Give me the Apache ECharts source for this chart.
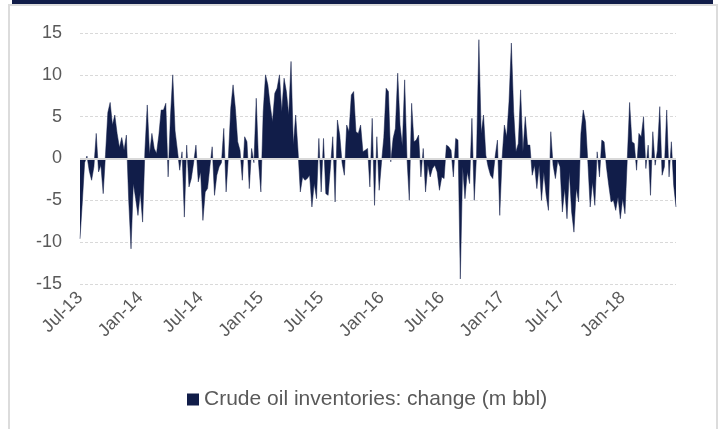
<!DOCTYPE html>
<html>
<head>
<meta charset="utf-8">
<script src="https://cdn.jsdelivr.net/npm/echarts@6/dist/echarts.min.js"></script>
<style>
html,body{margin:0;padding:0;background:#fff;}
#chart{width:725px;height:429px;}
</style>
</head>
<body>
<div id="chart"></div>
<script>
// Weekly change in crude oil inventories (m bbl), first week of Jul-2013 onward
var startDate = '2013-07-05';
var values = [
-9.6,-5.2,-0.5,0.3,-1.5,-2.6,-1,3,-1.6,-0.8,
-4.2,0.5,5.5,6.7,4,5.2,3,1.3,2.5,1,
2.8,-5,-10.8,-3,-4.8,-6.8,-4,-7.6,1,6.4,
0.5,3,1.2,0.6,2.8,5.8,5.8,6.6,-2.2,5,
10,3.3,1,-1.4,0.8,-7,1.6,-3.4,-2.4,-0.5,
1.6,-2.8,-1.6,-7.4,-4,-3.6,-1,1.4,-4.4,-2,
-1,-0.5,3.6,-4,0.2,6,8.8,6,2,1,
-2.6,2.6,2,-3.6,1.2,-0.5,7.2,-0.5,-4,5.6,
10,8.8,6.4,4.4,7.8,8.4,10,5.6,9.6,8,
5.2,11.6,1.6,5.2,1,-4,-2.2,-2.6,-2.4,-2,
-5.8,-3,-4.8,2.4,-4,2.4,-4.2,-4.4,-1,2.6,
-5.2,4.6,2.8,-0.5,-2,4,3.2,7.6,8,3.2,
3,4,0.8,1,1.2,-3.4,4.8,-5.6,2.6,-3.8,
-0.5,2.5,8.4,8,-0.4,2.4,3.6,10.2,4,1.5,
9.4,0,-5,6.6,2,2.2,2.8,-2.2,1.2,-4,
-0.8,-2.2,-1.2,-0.8,-1.6,-3.8,-2.2,-2.4,1.6,1.4,
1,-2.2,2.4,2.2,-14.4,-1,-4.8,-1.6,-3,4.8,
-5,0.5,14.2,3,5.2,0.4,-1,-2,-2.4,0.2,
2.2,-6.8,0,4,2.6,6.8,13.8,5.6,0.8,1.8,
8.2,0.8,5,1.6,1.6,-2,-0.8,-3.6,-0.8,-5,
-1.6,-4.4,-6.2,3.2,-0.8,-2.4,-0.3,-1,-6.4,-3.6,
-7.2,-1.6,-6.4,-8.8,-3.6,-5.2,3,5.8,4.4,-0.5,
-5.8,-2.8,-5.6,0.8,-2.2,2.2,2,-1,-3.2,-5.2,
-5,-6.2,-4.6,-7.2,-4.8,-6.6,0,6.7,2,1.8,
-1.4,3,2.6,5,-1.2,1.6,-4.4,3.2,-0.8,1,
6.2,-2,-1,5.8,-2.2,2,-3.2,-5.8
];
var tickLabels = ['Jul-13','Jan-14','Jul-14','Jan-15','Jul-15','Jan-16','Jul-16','Jan-17','Jul-17','Jan-18'];
var yTicks = [-15,-10,-5,0,5,10,15];
var seriesName = 'Crude oil inventories: change (m bbl)';

var categories = [];
var d0 = new Date(startDate + 'T00:00:00Z');
for (var i = 0; i < values.length; i++) {
  var d = new Date(d0.getTime() + i * 7 * 86400000);
  categories.push(d.toISOString().slice(0, 10));
}
var LABEL_EVERY = 26;
var navy = '#111d49';
var textColor = '#595959';
var font = "'Liberation Sans', Arial, sans-serif";

var chart = echarts.init(document.getElementById('chart'), null, {renderer: 'canvas'});
chart.setOption({
  animation: false,
  backgroundColor: '#ffffff',
  graphic: [
    {type: 'rect', shape: {x: 12, y: 0, width: 701, height: 4}, style: {fill: navy}, silent: true},
    {type: 'rect', shape: {x: 9, y: 5, width: 708, height: 430}, style: {fill: 'none', stroke: '#dcdcdc', lineWidth: 2}, silent: true}
  ],
  grid: {left: 80, right: 49, top: 33, bottom: 145, containLabel: false},
  legend: {
    data: [seriesName],
    left: 182, top: 384,
    icon: 'rect', itemWidth: 12, itemHeight: 12, itemGap: 10,
    textStyle: {color: textColor, fontSize: 21, fontFamily: font}
  },
  xAxis: {
    type: 'category',
    data: categories,
    boundaryGap: false,
    axisLine: {show: false, onZero: false},
    axisTick: {show: false},
    splitLine: {show: false},
    axisLabel: {
      interval: function (idx) { return idx % LABEL_EVERY === 0; },
      formatter: function (val, idx) { return tickLabels[idx / LABEL_EVERY] || ''; },
      rotate: 45,
      margin: 11,
      color: textColor,
      fontSize: 18,
      fontFamily: font
    }
  },
  yAxis: {
    type: 'value',
    min: yTicks[0], max: yTicks[yTicks.length - 1], interval: 5,
    axisLine: {show: false},
    axisTick: {show: false},
    axisLabel: {color: textColor, fontSize: 18, fontFamily: font, margin: 18},
    splitLine: {show: true, lineStyle: {color: '#d9d9d9', type: [3, 2], width: 1}}
  },
  series: [{
    name: seriesName,
    type: 'line',
    data: values,
    showSymbol: false,
    symbol: 'none',
    lineStyle: {width: 0.5, color: navy},
    itemStyle: {color: navy},
    areaStyle: {color: navy, opacity: 1},
    markLine: {
      silent: true,
      symbol: 'none',
      label: {show: false},
      lineStyle: {color: '#d9d9d9', type: 'solid', width: 2},
      data: [{yAxis: 0}]
    }
  }]
});
</script>
</body>
</html>
